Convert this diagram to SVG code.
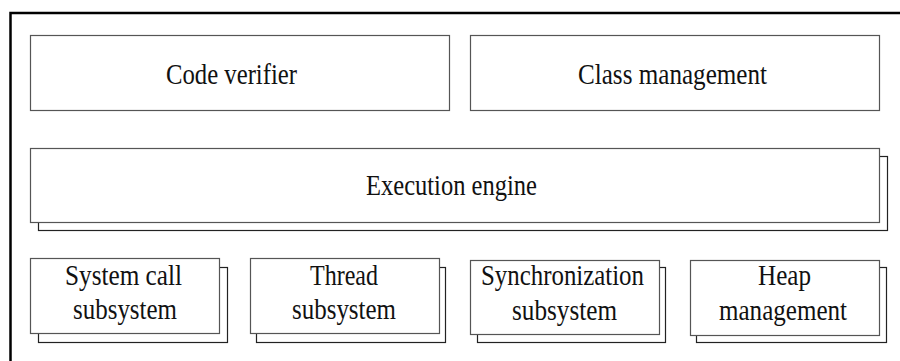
<svg xmlns="http://www.w3.org/2000/svg" width="900" height="361" viewBox="0 0 900 361">
<style>
.box{fill:#fff;stroke:#555;stroke-width:1.2}
.sh{fill:#fff;stroke:#222;stroke-width:1.2}
.t{font-family:"Liberation Serif","Times New Roman",serif;font-size:30px;fill:#111}
</style>
<rect x="0" y="0" width="900" height="361" fill="#fff"/>
<path d="M10.5,361 V13 H900" fill="none" stroke="#000" stroke-width="2.5"/>
<g id="code-verifier">
<rect class="box" x="30.5" y="35.5" width="419" height="75"/>
<text class="t" x="166" y="84" textLength="131" lengthAdjust="spacingAndGlyphs">Code verifier</text>
</g>
<g id="class-management">
<rect class="box" x="470.5" y="35.5" width="409" height="75"/>
<text class="t" x="578" y="84" textLength="189" lengthAdjust="spacingAndGlyphs">Class management</text>
</g>
<g id="execution-engine">
<rect class="sh" x="38.5" y="156.5" width="849" height="74"/>
<rect class="box" x="30.5" y="148.5" width="849" height="74"/>
<text class="t" x="366" y="195" textLength="171" lengthAdjust="spacingAndGlyphs">Execution engine</text>
</g>
<g id="system-call">
<rect class="sh" x="38.5" y="267.5" width="189" height="75"/>
<rect class="box" x="30.5" y="258.5" width="189" height="75"/>
<text class="t" x="65" y="285" textLength="117" lengthAdjust="spacingAndGlyphs">System call</text>
<text class="t" x="73" y="319" textLength="104" lengthAdjust="spacingAndGlyphs">subsystem</text>
</g>
<g id="thread">
<rect class="sh" x="256.5" y="267.5" width="189" height="75"/>
<rect class="box" x="250.5" y="258.5" width="189" height="75"/>
<text class="t" x="310" y="285" textLength="68" lengthAdjust="spacingAndGlyphs">Thread</text>
<text class="t" x="292" y="319" textLength="104" lengthAdjust="spacingAndGlyphs">subsystem</text>
</g>
<g id="synchronization">
<rect class="sh" x="477.5" y="267.5" width="188" height="75"/>
<rect class="box" x="470.5" y="260.5" width="189" height="74"/>
<text class="t" x="481" y="285" textLength="163" lengthAdjust="spacingAndGlyphs">Synchronization</text>
<text class="t" x="512" y="320" textLength="105" lengthAdjust="spacingAndGlyphs">subsystem</text>
</g>
<g id="heap">
<rect class="sh" x="696.5" y="267.5" width="190" height="75"/>
<rect class="box" x="690.5" y="260.5" width="189" height="75"/>
<text class="t" x="758" y="285" textLength="53" lengthAdjust="spacingAndGlyphs">Heap</text>
<text class="t" x="719" y="320" textLength="128" lengthAdjust="spacingAndGlyphs">management</text>
</g>
<g id="connectors"></g>
</svg>
